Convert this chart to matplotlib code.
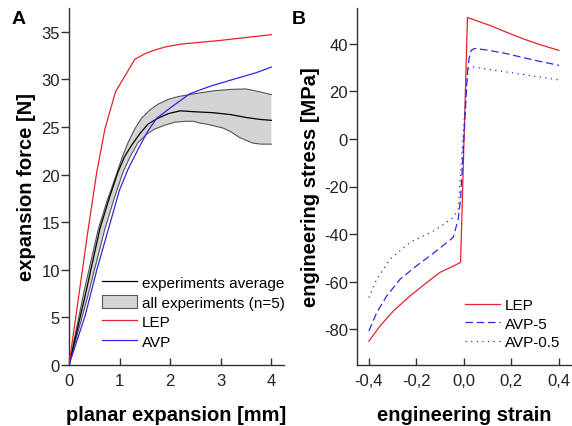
import matplotlib
matplotlib.use("Agg")
import matplotlib.pyplot as plt
from matplotlib.lines import Line2D
from matplotlib.patches import Patch

plt.rcParams['font.family'] = ['Liberation Sans', 'DejaVu Sans']

# ---- Panel A data ----
lep_a_x = [0, 0.38, 0.55, 0.71, 0.92, 1.3, 1.5, 1.7, 1.9, 2.2, 2.6, 3.0, 3.5, 4.0]
lep_a_y = [0, 14.3, 20.3, 24.8, 28.7, 32.1, 32.7, 33.1, 33.4, 33.7, 33.9, 34.1, 34.4, 34.7]
avp_a_x = [0, 0.32, 0.55, 0.78, 1.0, 1.17, 1.37, 1.55, 1.73, 2.0, 2.39, 2.8, 3.31, 3.7, 4.0]
avp_a_y = [0, 5.2, 10.0, 14.3, 18.4, 20.6, 22.7, 24.5, 25.9, 27.0, 28.5, 29.3, 30.1, 30.7, 31.3]
avg_x = [0, 0.32, 0.61, 0.8, 0.97, 1.1, 1.24, 1.4, 1.56, 1.75, 1.96, 2.2, 2.49, 2.85,
         3.2, 3.5, 3.77, 4.0]
avg_y = [0, 7.3, 14.3, 17.6, 20.3, 21.9, 23.1, 24.3, 25.3, 25.9, 26.4, 26.7, 26.6, 26.5,
         26.3, 26.0, 25.8, 25.7]
up_x = [0, 0.3, 0.58, 0.75, 0.91, 1.05, 1.17, 1.3, 1.43, 1.6, 1.76, 1.96, 2.16, 2.49,
        2.85, 3.2, 3.5, 3.77, 4.0]
up_y = [0, 7.8, 14.3, 17.2, 19.6, 21.8, 23.4, 24.8, 25.9, 26.8, 27.4, 27.9, 28.2, 28.5,
        28.8, 28.95, 29.0, 28.7, 28.4]
lo_x = [0, 0.36, 0.71, 0.9, 1.07, 1.22, 1.37, 1.55, 1.7, 1.9, 2.09, 2.3, 2.45, 2.6,
        2.72, 3.04, 3.2, 3.37, 3.5, 3.64, 3.8, 4.0]
lo_y = [0, 7.0, 14.3, 17.6, 20.3, 22.0, 23.4, 24.3, 24.8, 25.2, 25.5, 25.6, 25.6, 25.4,
        25.3, 24.9, 24.5, 23.9, 23.6, 23.3, 23.2, 23.2]

# ---- Panel B data ----
lep_b_x = [-0.4, -0.353, -0.297, -0.227, -0.157, -0.101, -0.05, -0.014,
           0.015, 0.06, 0.109, 0.18, 0.248, 0.32, 0.4]
lep_b_y = [-85.0, -78.6, -72.3, -66.0, -60.4, -56.1, -53.7, -51.9,
           51.0, 49.4, 47.7, 44.8, 42.1, 39.6, 37.2]
avp5_x = [-0.4, -0.367, -0.325, -0.269, -0.199, -0.115, -0.08, -0.045, -0.024,
          -0.014, 0.015, 0.022, 0.03, 0.045, 0.1, 0.18, 0.3, 0.4]
avp5_y = [-80.7, -73.0, -66.0, -59.0, -53.3, -47.0, -44.2, -41.4, -33.7,
          -25.3, 28.0, 34.0, 37.2, 38.0, 37.3, 35.8, 33.0, 30.9]
avp05_x = [-0.4, -0.367, -0.311, -0.227, -0.176, -0.13, -0.087, -0.045, -0.024,
           0.012, 0.02, 0.034, 0.1, 0.18, 0.3, 0.4]
avp05_y = [-66.7, -59.0, -50.5, -43.5, -41.0, -38.8, -36.0, -33.0, -29.5,
           24.0, 29.5, 30.3, 29.3, 28.1, 26.3, 24.8]

a_xticks = [0, 1, 2, 3, 4]
a_yticks = [0, 5, 10, 15, 20, 25, 30, 35]
b_xticks = [-0.4, -0.2, 0.0, 0.2, 0.4]
b_xticklabels = ['-0,4', '-0,2', '0,0', '0,2', '0,4']
b_yticks = [-80, -60, -40, -20, 0, 20, 40]
b_yticklabels = ['-80', '-60', '-40', '-20', '0', '20', '40']

fig = plt.figure(figsize=(5.72, 4.27), dpi=100)
spine_c = '#333333'
tick_fs = 12
lab_fs = 14.5
red = '#e8222a'
blue = '#2a2ae6'

def style(ax):
    for s in ['top', 'right']:
        ax.spines[s].set_visible(False)
    for s in ['left', 'bottom']:
        ax.spines[s].set_color(spine_c)
        ax.spines[s].set_linewidth(1.0)
    ax.tick_params(axis='y', direction='out', length=5.5, width=1.0, color=spine_c,
                   labelsize=tick_fs, pad=1, labelcolor='#222222')
    ax.tick_params(axis='x', direction='in', length=5.0, width=1.0, color=spine_c,
                   labelsize=tick_fs, pad=6, labelcolor='#222222')

axA = fig.add_axes([69/572, 1-366/427, (284-69)/572, (366-9)/427])
poly_x = up_x + lo_x[::-1]
poly_y = up_y + lo_y[::-1]
axA.fill(poly_x, poly_y, facecolor='#d4d4d4', edgecolor='none', zorder=1)
axA.plot(up_x, up_y, color='#555555', lw=0.8, zorder=2)
axA.plot(lo_x, lo_y, color='#555555', lw=0.8, zorder=2)
axA.plot(avg_x, avg_y, color='black', lw=0.9, zorder=3)
axA.plot(lep_a_x, lep_a_y, color=red, lw=0.9, zorder=4)
axA.plot(avp_a_x, avp_a_y, color=blue, lw=0.9, zorder=4)
axA.set_xlim(0, 4.25)
axA.set_ylim(0, 37.5)
axA.set_xticks(a_xticks)
axA.set_yticks(a_yticks)
style(axA)
axA.set_xlabel('planar expansion [mm]', fontsize=lab_fs, fontweight='bold', labelpad=12)
axA.set_ylabel('expansion force [N]', fontsize=lab_fs, fontweight='bold', labelpad=4)

handlesA = [Line2D([], [], color='black', lw=0.9),
            Patch(facecolor='#d4d4d4', edgecolor='#555555', lw=0.8),
            Line2D([], [], color=red, lw=0.9),
            Line2D([], [], color=blue, lw=0.9)]
labelsA = ['experiments average', 'all experiments (n=5)', 'LEP', 'AVP']
axA.legend(handlesA, labelsA, loc='upper left', bbox_to_anchor=(102/572, 1-276/427),
           bbox_transform=fig.transFigure, frameon=False, fontsize=11,
           borderpad=0, borderaxespad=0, handlelength=2.3, handletextpad=0.3,
           labelspacing=0.3, handleheight=1.0)

axB = fig.add_axes([357/572, 1-366/427, (572-357)/572, (366-9)/427])
axB.plot(lep_b_x, lep_b_y, color=red, lw=0.9, label='LEP')
axB.plot(avp5_x, avp5_y, color=blue, lw=0.9, ls=(0, (6, 3)), label='AVP-5')
axB.plot(avp05_x, avp05_y, color=blue, lw=0.9, ls=(0, (1, 3.5)), label='AVP-0.5')
axB.set_xlim(-0.45, 0.455)
axB.set_ylim(-95, 55)
axB.set_xticks(b_xticks)
axB.set_xticklabels(b_xticklabels)
axB.set_yticks(b_yticks)
axB.set_yticklabels(b_yticklabels)
style(axB)
axB.set_xlabel('engineering strain', fontsize=lab_fs, fontweight='bold', labelpad=12)
axB.set_ylabel('engineering stress [MPa]', fontsize=lab_fs, fontweight='bold', labelpad=3)
axB.legend(loc='upper left', bbox_to_anchor=(465/572, 1-299/427),
           bbox_transform=fig.transFigure, frameon=False, fontsize=11,
           borderpad=0, borderaxespad=0, handlelength=2.3, handletextpad=0.3,
           labelspacing=0.3)

fig.text(12/572, 1-24/427, 'A', fontsize=14, fontweight='bold', ha='left', va='baseline')
fig.text(292/572, 1-24/427, 'B', fontsize=14, fontweight='bold', ha='left', va='baseline')

fig.savefig('out.png', dpi=100)
